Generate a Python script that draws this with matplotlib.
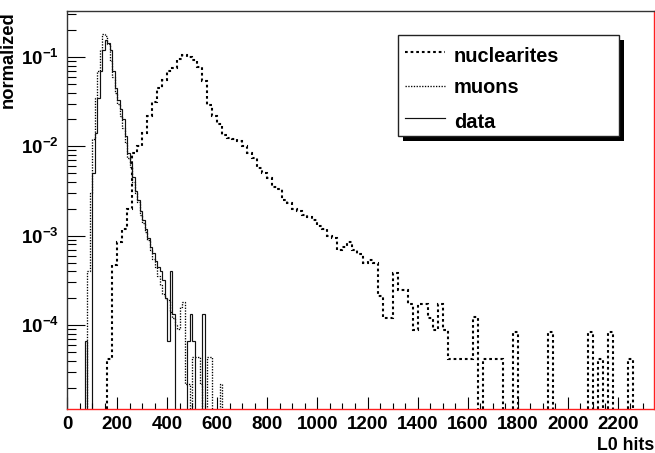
import numpy as np
import matplotlib

matplotlib.use("Agg")
import matplotlib.pyplot as plt
from matplotlib.lines import Line2D
from matplotlib.patches import Rectangle
from matplotlib.ticker import FuncFormatter, LogLocator, MultipleLocator, NullFormatter

# histogram binning (L0 hits) and normalized contents
NUC_START, NUC_WIDTH = 160, 20
nuc_values = [
    4.2e-5, 4.7e-4, 8.5e-4, 1.2e-3, 2.0e-3, 8.4e-3, 1.0e-2, 1.4e-2, 2.2e-2, 3.1e-2,   # 160-340
    4.5e-2, 5.5e-2, 7.0e-2, 7.5e-2, 9.5e-2, 0.105, 0.100, 0.093, 0.077, 0.054,         # 360-540
    0.029, 0.022, 0.018, 0.0135, 0.0125, 0.0120, 0.0115, 0.0100, 0.0085, 0.0075,       # 560-740
    0.0057, 0.0050, 0.0044, 0.0035, 0.0033, 0.0025, 0.0023, 0.0020, 0.0019, 0.0017,    # 760-940
    0.0016, 0.0015, 0.0013, 0.0012, 0.0010, 9.5e-4, 6.9e-4, 7.5e-4, 8.5e-4, 6.9e-4,    # 960-1140
    6.3e-4, 5.0e-4, 5.3e-4, 5.0e-4, 2.1e-4, 1.2e-4, 1.2e-4, 3.8e-4, 2.5e-4, 2.5e-4,    # 1160-1340
    1.7e-4, 8.7e-5, 1.7e-4, 1.7e-4, 1.2e-4, 8.7e-5, 1.7e-4, 8.7e-5, 4.2e-5, 4.2e-5,    # 1360-1540
    4.2e-5, 4.2e-5, 4.2e-5, 1.24e-4, 0, 4.2e-5, 4.2e-5, 4.2e-5, 4.2e-5, 0,             # 1560-1740
    0, 8.4e-5, 0, 0, 0, 0, 0, 0, 8.4e-5, 0,                                            # 1760-1940
    0, 0, 0, 0, 0, 0, 8.4e-5, 0, 4.2e-5, 0,                                            # 1960-2140
    8.4e-5, 0, 0, 0, 4.2e-5,                                                           # 2160-2240
]

MU_START, MU_WIDTH = 80, 10
mu_values = [
    4.0e-4, 3.0e-3, 0.012, 0.035, 0.07, 0.12, 0.18, 0.17, 0.14, 0.09,                 # 80-170
    0.06, 0.04, 0.03, 0.022, 0.016, 0.011, 0.0075, 0.0058, 0.0040, 0.0030,             # 180-270
    0.0024, 0.0017, 0.0014, 0.0011, 9.0e-4, 7.0e-4, 5.5e-4, 4.5e-4, 3.5e-4, 2.8e-4,    # 280-370
    2.2e-4, 2.0e-4, 1.9e-4, 1.4e-4, 1.2e-4, 1.0e-4, 9.0e-5, 1.6e-4, 1.8e-4, 2.2e-5,    # 380-470
    2.2e-5, 0, 4.4e-5, 4.4e-5, 4.4e-5, 2.2e-5, 0, 0, 4.4e-5, 4.4e-5,                   # 480-570
    0, 0, 0, 2.2e-5,                                                                   # 580-610
]

DATA_START, DATA_WIDTH = 70, 10
data_values = [
    6.7e-5, 0, 0, 5.0e-3, 0.014, 0.035, 0.07, 0.12, 0.155, 0.145,                     # 70-160
    0.12, 0.07, 0.045, 0.033, 0.026, 0.020, 0.013, 0.0085, 0.0065, 0.0045,             # 170-260
    0.0032, 0.0025, 0.0019, 0.0015, 0.0012, 9.5e-4, 7.5e-4, 6.4e-4, 5.2e-4, 4.5e-4,    # 270-360
    4.0e-4, 3.2e-4, 2.0e-4, 6.7e-5, 4.0e-4, 1.33e-4, 0, 0, 0, 0,                       # 370-460
    0, 6.7e-5, 1.33e-4, 6.7e-5, 0, 0, 0, 1.33e-4,                                      # 470-540
]

legend_labels = ["nuclearites", "muons", "data"]
x_ticks = list(range(0, 2201, 200))

W, H = 655, 453


def edges(start, width, values):
    return start + width * np.arange(len(values) + 1)


def px(x, y):
    # pixel position in the picture -> figure fraction
    return x / W, 1 - y / H


plt.rcParams["font.family"] = ["Liberation Sans", "DejaVu Sans"]
plt.rcParams["font.weight"] = "bold"
plt.rcParams["mathtext.fontset"] = "custom"
plt.rcParams["mathtext.rm"] = "Liberation Sans:bold"
plt.rcParams["mathtext.bf"] = "Liberation Sans:bold"
plt.rcParams["mathtext.it"] = "Liberation Sans:bold:italic"

styles = {
    "nuclearites": dict(color="black", linewidth=1.5, linestyle=(0, (1.3, 1.4))),
    "muons": dict(color="black", linewidth=0.95, linestyle=(0, (1.0, 1.1))),
    "data": dict(color="#111111", linewidth=0.85, linestyle="-"),
}

fig = plt.figure(figsize=(W / 100, H / 100), dpi=100)
ax = fig.add_axes([67 / W, 1 - 409 / H, 587 / W, 398 / H])
ax.set_yscale("log")

ax.stairs(nuc_values, edges(NUC_START, NUC_WIDTH, nuc_values), baseline=0, **styles["nuclearites"])
ax.stairs(mu_values, edges(MU_START, MU_WIDTH, mu_values), baseline=0, **styles["muons"])
ax.stairs(data_values, edges(DATA_START, DATA_WIDTH, data_values), baseline=0, **styles["data"])

ax.set_xlim(0, 2344)
ax.set_ylim(1.15e-5, 0.327)

ax.set_xticks(x_ticks)
ax.xaxis.set_minor_locator(MultipleLocator(50))
ax.yaxis.set_major_locator(LogLocator(base=10))
ax.yaxis.set_minor_locator(LogLocator(base=10, subs=np.arange(2, 10)))
ax.yaxis.set_minor_formatter(NullFormatter())
ax.yaxis.set_major_formatter(FuncFormatter(lambda v, _: r"$10^{%d}$" % round(np.log10(v))))

ax.tick_params(axis="both", which="both", direction="in", color="black", width=0.8,
               top=False, right=False, labelsize=13.5)
ax.tick_params(axis="x", which="major", length=8.5, pad=5)
ax.tick_params(axis="x", which="minor", length=4.3)
ax.tick_params(axis="y", which="major", length=13, pad=6)
ax.tick_params(axis="y", which="minor", length=6.5)

for side in ("left", "top"):
    ax.spines[side].set_color("#333333")
    ax.spines[side].set_linewidth(1.0)
for side in ("right", "bottom"):
    ax.spines[side].set_color("#ff2020")
    ax.spines[side].set_linewidth(1.0)

ax.set_ylabel("normalized", fontsize=13.2, fontweight="bold", loc="top")
ax.yaxis.set_label_coords(-0.085, 1.0)
ax.set_xlabel("L0 hits", fontsize=12.8, fontweight="bold", loc="right")
ax.xaxis.set_label_coords(1.0, -0.07)

# ROOT-like legend box with a drop shadow
x0, y0 = px(398, 136)
x1, y1 = px(619, 35)
sx, sy = px(403, 141)
fig.patches.append(Rectangle((sx, sy), x1 - x0, y1 - y0, transform=fig.transFigure,
                             facecolor="black", edgecolor="black", linewidth=0, zorder=5))
fig.patches.append(Rectangle((x0, y0), x1 - x0, y1 - y0, transform=fig.transFigure,
                             facecolor="white", edgecolor="#222222", linewidth=1.0, zorder=6))
for label, line_y, text_y in zip(legend_labels, (52, 86, 118), (61.5, 93, 127.5)):
    lx0, ly = px(405, line_y)
    lx1, _ = px(445, line_y)
    fig.lines.append(Line2D([lx0, lx1], [ly, ly], transform=fig.transFigure, zorder=7, **styles[label]))
    tx, ty = px(454, text_y)
    fig.text(tx, ty, label, fontsize=14.4, fontweight="bold", va="baseline", ha="left", zorder=7)

fig.savefig("out.png", dpi=100)
